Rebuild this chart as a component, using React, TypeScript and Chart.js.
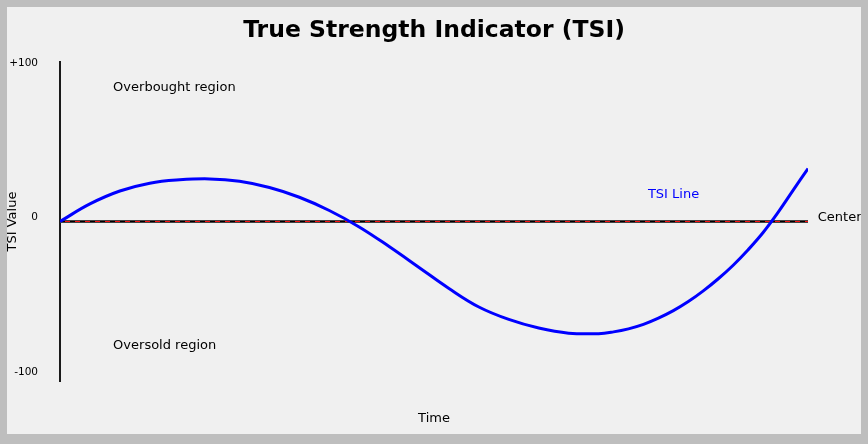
import React, { useEffect, useRef } from "react";
import { Chart, registerables } from "chart.js";

Chart.register(...registerables);

const chartTitle = "True Strength Indicator (TSI)";
const xAxisTitle = "Time";
const yAxisTitle = "TSI Value";

const timePoints = [0, 4, 8, 12, 16, 20, 24, 28, 32, 36, 40, 44, 48, 52, 56, 60, 64, 68, 72, 74, 76, 78, 80, 82, 84, 86, 88, 90, 92, 94, 96, 98, 100];
const tsiValues = [0, 11.0, 19.1, 24.0, 26.1, 26.7, 25.2, 21.3, 15.2, 6.9, -3.4, -15.7, -28.8, -42.0, -53.6, -61.4, -66.8, -70.0, -70.3, -69.2, -67.3, -64.5, -60.6, -55.9, -50.2, -43.5, -35.9, -27.4, -17.7, -6.9, 5.7, 19.5, 33.2];

const centerTime = [0, 100];
const centerValues = [0, 0];

const yTickValues = [100, 0, -100];
const yTickLabels = ["+100", "0", "-100"];

const noteTexts = ["Overbought region", "Oversold region", "TSI Line", "Center"];
const noteTime = [7.1, 7.1, 78.6, 101.3];
const noteValues = [84, -77.7, 16.9, 2.2];
const noteColors = ["#000000", "#000000", "#0000ff", "#000000"];

const FONT = "DejaVu Sans";

const notesPlugin = {
  id: "notes",
  afterDatasetsDraw(chart: any) {
    const { ctx, scales } = chart;
    ctx.save();
    ctx.font = `13px "${FONT}"`;
    ctx.textAlign = "left";
    ctx.textBaseline = "middle";
    noteTexts.forEach((t, i) => {
      ctx.fillStyle = noteColors[i];
      ctx.fillText(t, scales.x.getPixelForValue(noteTime[i]), scales.y.getPixelForValue(noteValues[i]));
    });
    ctx.restore();
  },
};

export default function App() {
  const ref = useRef<HTMLCanvasElement | null>(null);

  useEffect(() => {
    if (!ref.current) return;
    Chart.defaults.font.family = FONT;
    const tsiData = timePoints.map((x, i) => ({ x, y: tsiValues[i] }));
    const centerData = centerTime.map((x, i) => ({ x, y: centerValues[i] }));
    const chart = new Chart(ref.current, {
      type: "line",
      data: {
        datasets: [
          {
            label: "TSI",
            data: tsiData,
            borderColor: "#0000ff",
            borderWidth: 3,
            pointRadius: 0,
            tension: 0.4,
            fill: false,
            yAxisID: "y",
          },
          {
            label: "center-red",
            data: centerData,
            borderColor: "#ff1010",
            borderWidth: 1,
            borderDash: [5, 5],
            borderDashOffset: 5,
            pointRadius: 0,
            yAxisID: "y",
          },
          {
            label: "center-black",
            data: centerData,
            borderColor: "#000000",
            borderWidth: 1,
            borderDash: [5, 5],
            pointRadius: 0,
            yAxisID: "y",
          },
          {
            label: "center-gray",
            data: centerData,
            borderColor: "#444444",
            borderWidth: 3,
            pointRadius: 0,
            yAxisID: "y",
          },
        ],
      },
      options: {
        animation: false,
        responsive: false,
        events: [],
        layout: { padding: { left: 0, right: 0, top: 0, bottom: 0 } },
        plugins: {
          legend: { display: false },
          tooltip: { enabled: false },
          title: {
            display: true,
            text: chartTitle,
            color: "#000000",
            font: { family: FONT, size: 23.5, weight: "bold" },
            padding: { top: 17, bottom: 16.8 },
          },
        },
        scales: {
          x: {
            type: "linear",
            min: 0,
            max: 100,
            ticks: { display: false },
            grid: { display: false, drawTicks: false },
            border: { display: false },
            title: {
              display: true,
              text: xAxisTitle,
              color: "#000000",
              font: { family: FONT, size: 13 },
              padding: { top: 0, bottom: 18 },
            },
            afterFit: (s: any) => {
              s.height = 63;
            },
          },
          y: {
            type: "linear",
            display: false,
            min: -100,
            max: 100,
          },
          y2: {
            type: "linear",
            position: "left",
            min: -105.8,
            max: 100.65,
            afterBuildTicks: (s: any) => {
              s.ticks = yTickValues.map((v) => ({ value: v }));
            },
            ticks: {
              color: "#000000",
              font: { family: FONT, size: 10.5 },
              padding: 22,
              autoSkip: false,
              callback: (v: any) => yTickLabels[yTickValues.indexOf(Number(v))],
            },
            grid: { display: false, drawTicks: false },
            border: { display: true, color: "#1a1a1a", width: 2 },
            title: {
              display: true,
              text: yAxisTitle,
              color: "#000000",
              font: { family: FONT, size: 13 },
              padding: { top: 5, bottom: 0 },
            },
            afterFit: (s: any) => {
              s.width = 60;
            },
          },
          yR: {
            type: "linear",
            position: "right",
            min: 0,
            max: 1,
            ticks: { display: false },
            grid: { display: false, drawTicks: false },
            border: { display: false },
            afterFit: (s: any) => {
              s.width = 60;
            },
          },
        },
      },
      plugins: [notesPlugin],
    });
    return () => chart.destroy();
  }, []);

  return (
    <div style={{ position: "fixed", left: 0, top: 0, width: 868, height: 444, background: "#bebebe" }}>
      <div
        style={{
          position: "absolute",
          left: 7,
          top: 7,
          width: 854,
          height: 427,
          background: "#f0f0f0",
          overflow: "hidden",
        }}
      >
        <canvas ref={ref} width={868} height={444} style={{ position: "absolute", left: -7, top: -7, width: 868, height: 444 }} />
      </div>
    </div>
  );
}
